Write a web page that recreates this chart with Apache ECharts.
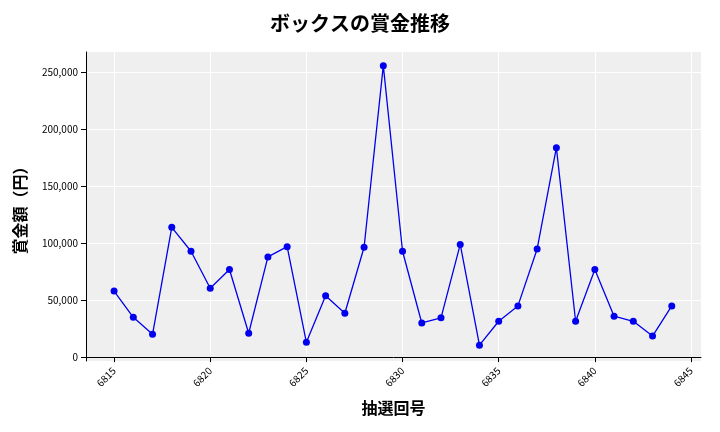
<!DOCTYPE html>
<html>
<head>
<meta charset="utf-8">
<script src="https://cdn.jsdelivr.net/npm/echarts@6/dist/echarts.min.js"></script>
<style>body{margin:0}#c{width:720px;height:432px}</style>
</head>
<body>
<div id="c"></div>
<script>
const draws = [6815,6816,6817,6818,6819,6820,6821,6822,6823,6824,6825,6826,6827,6828,6829,
  6830,6831,6832,6833,6834,6835,6836,6837,6838,6839,6840,6841,6842,6843,6844];
const prizes = [58000,35000,20000,114000,93000,60500,77000,21000,88000,97000,13000,54000,38500,96500,256000,
  93000,30000,34500,99000,10500,31500,45000,95000,184000,31500,77000,36000,31500,18500,45000];
const xTicks = [6815,6820,6825,6830,6835,6840,6845];
const yTicks = [0,50000,100000,150000,200000,250000];

const font = '"Noto Sans CJK JP", "DejaVu Sans", sans-serif';
const chart = echarts.init(document.getElementById('c'));
chart.setOption({
  animation: false,
  title: { text: 'ボックスの賞金推移', left: 'center', top: 8,
    textStyle: { fontFamily: font, fontSize: 20, fontWeight: 'bold', color: '#000' } },
  grid: { left: 86, right: 19, top: 52, bottom: 71, show: true, backgroundColor: '#efefef', borderWidth: 0 },
  xAxis: {
    type: 'value', min: 6813.54, max: 6845.52,
    name: '抽選回号', nameLocation: 'middle', nameGap: 39,
    nameTextStyle: { fontFamily: font, fontSize: 16, fontWeight: 'bold', color: '#000' },
    axisLine: { show: true, lineStyle: { color: '#000' } },
    axisTick: { show: true, customValues: xTicks, lineStyle: { color: '#000' } },
    axisLabel: { customValues: xTicks, rotate: 45, fontSize: 10, color: '#000', fontFamily: font,
      formatter: v => String(v) },
    splitLine: { show: true, lineStyle: { color: '#fff' } }
  },
  yAxis: {
    type: 'value', min: -3400, max: 268000,
    name: '賞金額（円）', nameLocation: 'middle', nameGap: 58,
    nameTextStyle: { fontFamily: font, fontSize: 16, fontWeight: 'bold', color: '#000' },
    axisLine: { show: true, lineStyle: { color: '#000' } },
    axisTick: { show: true, customValues: yTicks, lineStyle: { color: '#000' } },
    axisLabel: { customValues: yTicks, fontSize: 10, color: '#000', fontFamily: font,
      formatter: v => v.toLocaleString('en-US') },
    splitLine: { show: true, lineStyle: { color: '#fff' } }
  },
  series: [{
    type: 'line',
    data: draws.map((d, i) => [d, prizes[i]]),
    symbol: 'circle', symbolSize: 7,
    lineStyle: { color: '#0000ee', width: 1.3 },
    itemStyle: { color: '#0000ee' }
  }]
});
</script>
</body>
</html>
